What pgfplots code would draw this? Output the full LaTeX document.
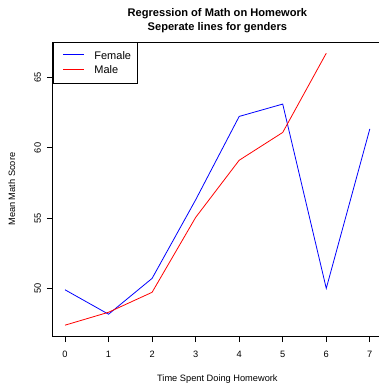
\documentclass[border=0pt]{standalone}
\usepackage{fontspec}
\setmainfont{Liberation Sans}
\usepackage{pgfplots}
\pgfplotsset{compat=1.18}

% Mean math score by hours of homework, one line per gender
\pgfplotstableread{
hw score
0 49.90
1 48.16
2 50.71
3 56.30
4 62.24
5 63.12
6 50.00
7 61.35
}\female
\pgfplotstableread{
hw score
0 47.38
1 48.30
2 49.72
3 55.05
4 59.12
5 61.10
6 66.74
}\male

\newcommand\basefont{\fontsize{9.25}{11}\selectfont}
\newcommand\legendfont{\fontsize{11}{13}\selectfont}

\begin{document}
\begin{tikzpicture}[x=1pt,y=1pt]
\begin{axis}[
  at={(52.8pt,47pt)}, anchor=south west,
  scale only axis, width=329.2pt, height=293.6pt,
  xmin=-0.28, xmax=7.28, ymin=46.61, ymax=67.51,
  xtick={0,1,...,7}, ytick={50,55,60,65},
  xtick pos=lower, ytick pos=left,
  tick align=outside, major tick length=6pt,
  tick style={black, line width=0.8pt},
  axis line style={line width=0.8pt},
  font=\basefont,
  /pgf/number format/assume math mode=true,
  xticklabel style={anchor=base, yshift=-15.6pt, inner sep=0pt},
  yticklabel style={rotate=90, anchor=base, inner sep=0pt},
  yticklabel shift=6pt,
  xlabel={Time Spent Doing Homework},
  ylabel={Mean Math Score},
  xlabel style={at={(axis description cs:0.5,-0.1533)}, anchor=base, inner sep=0pt},
  ylabel style={at={(axis description cs:-0.1148,0.5)}, anchor=base, inner sep=0pt},
  title={Regression of Math on Homework\\Seperate lines for genders},
  title style={at={(axis description cs:0.5,1)}, anchor=base, yshift=5.7pt,
    align=center, font=\fontsize{11.1}{13.7}\selectfont\bfseries, inner sep=0pt},
  legend style={at={(rel axis cs:0,1)}, anchor=north west, draw=black,
    line width=0.8pt, inner xsep=0pt, inner ysep=5.9pt,
    row sep=0pt, column sep=0pt,
    nodes={inner sep=0pt, font=\legendfont},
    font=\legendfont},
  legend cell align=left,
  legend image code/.code={
    \path[draw=none, fill=none] (-9.9pt,-7.15pt) rectangle (31.3pt,7.15pt);
    \draw[#1] (0pt,1pt) -- (21.3pt,1pt);},
]
\addplot[blue, line width=0.8pt] table[x=hw, y=score] {\female};
\addlegendentry{Female\rule{6.6pt}{0pt}}
\addplot[red, line width=0.8pt] table[x=hw, y=score] {\male};
\addlegendentry{Male}
\end{axis}
\pgfresetboundingbox
\useasboundingbox (0pt,0pt) rectangle (379pt,383pt);
\end{tikzpicture}
\end{document}
